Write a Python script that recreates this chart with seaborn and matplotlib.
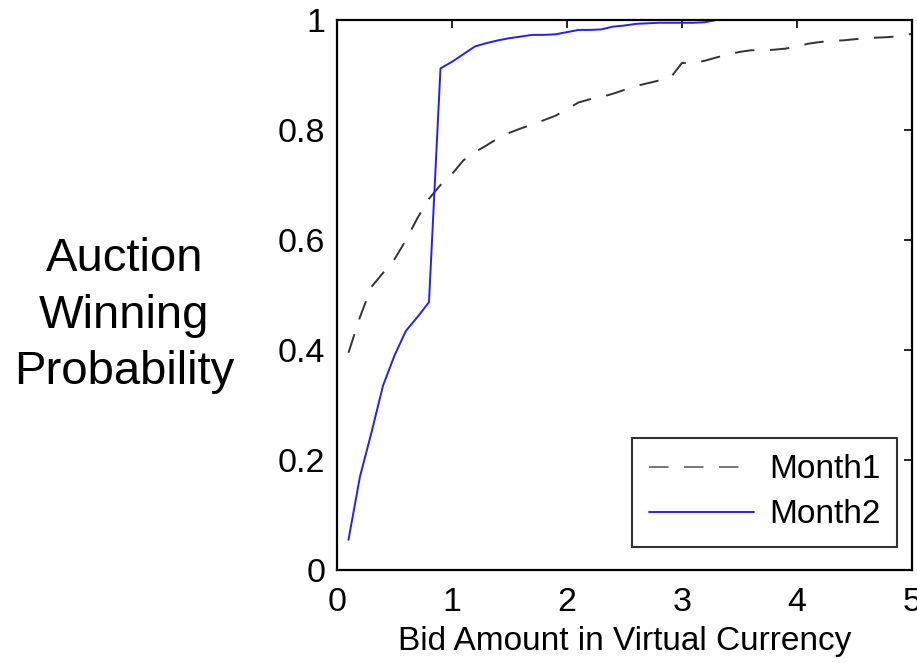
import pandas as pd
import matplotlib.pyplot as plt
import seaborn as sns

# Bid amounts (virtual currency)
bids = [0.1, 0.2, 0.3, 0.4, 0.5, 0.6, 0.7, 0.8, 0.9, 1.0,
        1.1, 1.2, 1.3, 1.4, 1.5, 1.6, 1.7, 1.8, 1.9, 2.0,
        2.1, 2.2, 2.3, 2.4, 2.5, 2.6, 2.7, 2.8, 2.9, 3.0,
        3.1, 3.2, 3.3, 3.4, 3.5, 3.6, 3.7, 3.8, 3.9, 4.0,
        4.1, 4.2, 4.3, 4.4, 4.5, 4.6, 4.7, 4.8, 4.9, 5.0]

month1 = [0.395, 0.46, 0.515, 0.54, 0.565, 0.60, 0.64, 0.675, 0.70, 0.72,
          0.745, 0.76, 0.772, 0.785, 0.795, 0.803, 0.81, 0.818, 0.826, 0.838,
          0.85, 0.856, 0.86, 0.866, 0.873, 0.88, 0.885, 0.89, 0.895, 0.922,
          0.922, 0.926, 0.932, 0.937, 0.942, 0.945, 0.945, 0.946, 0.948, 0.952,
          0.957, 0.96, 0.962, 0.963, 0.965, 0.967, 0.968, 0.969, 0.971, 0.975]

month2 = [0.055, 0.17, 0.25, 0.335, 0.39, 0.435, 0.46, 0.487, 0.912, 0.924,
          0.938, 0.952, 0.958, 0.963, 0.967, 0.97, 0.973, 0.973, 0.974, 0.978,
          0.982, 0.982, 0.983, 0.988, 0.99, 0.993, 0.994, 0.995, 0.995, 0.995,
          0.995, 0.996, 1.0, 1.0, 1.0, 1.0, 1.0, 1.0, 1.0, 1.0,
          1.0, 1.0, 1.0, 1.0, 1.0, 1.0, 1.0, 1.0, 1.0, 1.0]

df = pd.DataFrame({"Bid": bids, "Month1": month1, "Month2": month2})

sns.set_style("white", {"text.color": "black", "axes.labelcolor": "black",
                        "xtick.color": "black", "ytick.color": "black"})
plt.rcParams['font.family'] = ['Liberation Sans', 'DejaVu Sans']

fig = plt.figure(figsize=(9.17, 6.63), dpi=100)
ax = fig.add_axes([0.3675, 0.1403, 0.627, 0.8295])

sns.lineplot(data=df, x="Bid", y="Month1", ax=ax, color="#333333",
             linewidth=1.4, label="Month1")
sns.lineplot(data=df, x="Bid", y="Month2", ax=ax, color="#2020ff",
             linewidth=1.4, label="Month2")
ax.lines[0].set_linestyle((0, (10, 8)))

ax.set_xlim(0, 5)
ax.set_ylim(0, 1)
ax.set_xticks([0, 1, 2, 3, 4, 5])
ax.set_yticks([0, 0.2, 0.4, 0.6, 0.8, 1])
ax.set_yticklabels(["0", "0.2", "0.4", "0.6", "0.8", "1"])
ax.tick_params(direction="in", length=6, width=1.2, top=True, right=True,
               labelsize=24.5)
ax.tick_params(axis="y", pad=8.5)
ax.tick_params(axis="x", pad=12)
for s in ax.spines.values():
    s.set_visible(True)
    s.set_linewidth(1.6)
    s.set_color("black")

ax.set_xlabel("Bid Amount in Virtual Currency", fontsize=24, labelpad=6)
ax.set_ylabel("Auction\nWinning\nProbability", fontsize=34, rotation=0,
              ha="center", va="center", linespacing=1.37)
ax.yaxis.set_label_coords(-0.37, 0.462)

leg = ax.legend(loc="lower right", bbox_to_anchor=(0.974, 0.042),
                borderaxespad=0, fontsize=24, frameon=True, fancybox=False,
                edgecolor="black", handlelength=3.15, handletextpad=0.45,
                borderpad=0.5, labelspacing=0.42)
leg.get_frame().set_linewidth(1.5)
leg.get_lines()[0].set_color("#777777")

fig.savefig("out.png", dpi=100)
